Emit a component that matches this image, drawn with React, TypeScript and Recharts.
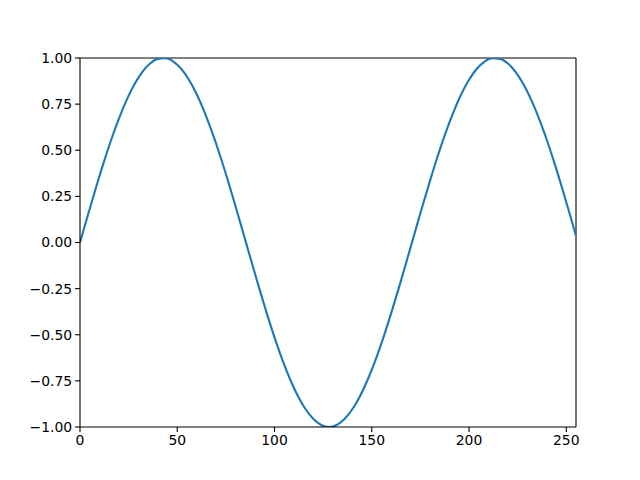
import { LineChart, Line, XAxis, YAxis, ReferenceLine } from 'recharts';

const xValues = [
  0, 4, 8, 12, 16, 20, 24, 28, 32, 36, 40, 44, 48, 52, 56, 60, 64, 68, 72, 76, 80, 84, 88, 92, 96, 100,
  104, 108, 112, 116, 120, 124, 128, 132, 136, 140, 144, 148, 152, 156, 160, 164, 168, 172, 176, 180,
  184, 188, 192, 196, 200, 204, 208, 212, 216, 220, 224, 228, 232, 236, 240, 244, 248, 252, 255,
];
const yValues = [
  0, 0.1467, 0.2903, 0.4276, 0.5556, 0.6716, 0.773, 0.8577, 0.9239, 0.97, 0.9952, 0.9988, 0.9808,
  0.9415, 0.8819, 0.8032, 0.7071, 0.5957, 0.4714, 0.3369, 0.1951, 0.0491, -0.098, -0.243, -0.3827,
  -0.5141, -0.6344, -0.741, -0.8315, -0.904, -0.9569, -0.9892, -1, -0.9892, -0.9569, -0.904, -0.8315,
  -0.741, -0.6344, -0.5141, -0.3827, -0.243, -0.098, 0.0491, 0.1951, 0.3369, 0.4714, 0.5957, 0.7071,
  0.8032, 0.8819, 0.9415, 0.9808, 0.9988, 0.9952, 0.97, 0.9239, 0.8577, 0.773, 0.6716, 0.5556, 0.4276,
  0.2903, 0.1467, 0.0368,
];
const xTicks = [0, 50, 100, 150, 200, 250];
const yTicks = [-1, -0.75, -0.5, -0.25, 0, 0.25, 0.5, 0.75, 1];

const data = xValues.map((x, i) => ({ x, y: yValues[i] }));

const tickStyle = { fontSize: 13.9, fill: '#000', fontFamily: 'DejaVu Sans' };
const fmtY = (v: number) => v.toFixed(2).replace('-', '\u2212');

export default function App() {
  return (
    <div style={{ position: 'absolute', left: 0, top: 0, width: 640, height: 480, background: '#fff' }}>
      <LineChart width={640} height={480} data={data} margin={{ top: 58, right: 64, bottom: 23, left: 0 }}>
        <XAxis
          dataKey="x"
          type="number"
          domain={[0, 255]}
          ticks={xTicks}
          allowDataOverflow
          height={30}
          tick={tickStyle}
          tickSize={4.9}
          tickMargin={3}
          stroke="#000"
          strokeWidth={1.1}
          tickLine={{ stroke: '#000', strokeWidth: 1.1 }}
        />
        <YAxis
          type="number"
          domain={[-1, 1]}
          ticks={yTicks}
          allowDataOverflow
          width={80}
          tick={tickStyle}
          tickFormatter={fmtY}
          tickSize={4.9}
          tickMargin={3}
          stroke="#000"
          strokeWidth={1.1}
          tickLine={{ stroke: '#000', strokeWidth: 1.1 }}
        />
        <ReferenceLine y={1} stroke="#000" strokeWidth={1.1} />
        <ReferenceLine x={255} stroke="#000" strokeWidth={1.1} />
        <Line
          type="monotone"
          dataKey="y"
          stroke="#1f77b4"
          strokeWidth={2.1}
          dot={false}
          isAnimationActive={false}
        />
      </LineChart>
    </div>
  );
}
